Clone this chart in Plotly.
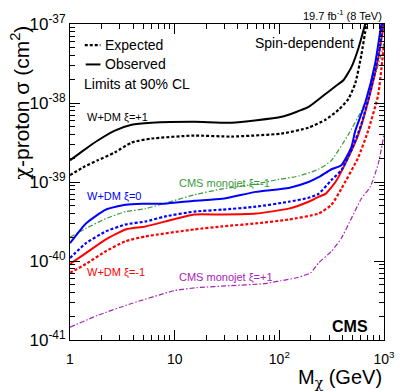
import plotly.graph_objects as go

# --- limits: dark matter mass (GeV) vs cross section (cm^2) ---

# W+DM, xi=+1
m_xi_p1_obs = [1, 1.39, 1.84, 2.68, 3.88, 6.0, 15.4, 35, 105, 190, 276, 344, 409, 487, 568, 661, 691]
s_xi_p1_obs = [1.88e-39, 2.59e-39, 3.35e-39, 4.47e-39, 5.31e-39, 5.62e-39, 5.79e-39, 5.62e-39,
               6.68e-39, 8.91e-39, 1.30e-38, 1.63e-38, 1.94e-38, 2.82e-38, 4.87e-38, 1.0e-37, 1.26e-37]
m_xi_p1_exp = [1, 1.39, 1.84, 2.68, 3.88, 6.0, 15.4, 35, 105, 190, 276, 367, 456, 532, 606, 676, 706]
s_xi_p1_exp = [1.22e-39, 1.58e-39, 1.88e-39, 2.37e-39, 3.16e-39, 3.55e-39, 3.87e-39, 3.76e-39,
               4.10e-39, 4.87e-39, 6.13e-39, 8.18e-39, 1.12e-38, 1.78e-38, 3.98e-38, 9.44e-38, 1.26e-37]

# W+DM, xi=0
m_xi_0_obs = [1, 1.42, 2.20, 3.40, 4.93, 8.0, 15.4, 28.4, 59.7, 123, 190, 237, 315, 391, 487, 532,
              661, 823, 938, 980]
s_xi_0_obs = [1.68e-40, 2.99e-40, 4.47e-40, 5.16e-40, 5.31e-40, 5.31e-40, 5.79e-40, 6.13e-40,
              7.50e-40, 8.41e-40, 1.0e-39, 1.15e-39, 1.45e-39, 1.63e-39, 2.75e-39, 4.47e-39,
              1.0e-38, 3.16e-38, 9.44e-38, 1.26e-37]
m_xi_0_exp = [1, 1.42, 2.20, 3.40, 5.27, 8.0, 15.4, 28.4, 59.7, 123, 190, 237, 315, 391, 487, 606,
              754, 918, 980]
s_xi_0_exp = [1.09e-40, 1.68e-40, 2.37e-40, 2.90e-40, 3.16e-40, 3.65e-40, 4.22e-40, 4.47e-40,
              4.87e-40, 5.62e-40, 6.31e-40, 7.08e-40, 1.06e-39, 1.41e-39, 2.51e-39, 5.31e-39,
              1.54e-38, 5.31e-38, 1.15e-37]

# W+DM, xi=-1
m_xi_m1_obs = [1, 1.42, 2.20, 3.40, 5.27, 15.4, 28.4, 59.7, 123, 190, 237, 276, 344, 456, 568, 706,
               879, 980, 1020]
s_xi_m1_obs = [9.17e-41, 1.26e-40, 1.88e-40, 2.51e-40, 2.74e-40, 3.87e-40, 3.87e-40, 3.98e-40,
               4.60e-40, 5.62e-40, 6.49e-40, 7.08e-40, 1.0e-39, 2.05e-39, 3.98e-39, 1.06e-38,
               3.65e-38, 8.66e-38, 1.15e-37]
m_xi_m1_exp = [1, 1.42, 2.20, 3.40, 5.27, 15.4, 28.4, 59.7, 123, 237, 315, 391, 568, 706, 879, 1000]
s_xi_m1_exp = [7.08e-41, 9.17e-41, 1.33e-40, 1.78e-40, 2.05e-40, 2.51e-40, 2.74e-40, 2.99e-40,
               3.35e-40, 3.98e-40, 5.16e-40, 8.18e-40, 2.05e-39, 4.47e-39, 1.26e-38, 5.62e-38]

# CMS monojet
m_monojet_m1 = [1, 1.42, 2.20, 3.40, 5.27, 15.4, 28.4, 59.7, 92.5, 153, 237, 315, 456, 606, 823, 1000]
s_monojet_m1 = [2.0e-40, 2.59e-40, 3.44e-40, 4.22e-40, 4.60e-40, 6.88e-40, 8.18e-40, 9.44e-40,
                1.06e-39, 1.19e-39, 1.45e-39, 1.88e-39, 3.98e-39, 7.94e-39, 2.24e-38, 5.62e-38]
m_monojet_p1 = [1, 1.84, 3.88, 10, 16.4, 34.5, 71.1, 103, 146, 199, 237, 315, 391, 487, 606, 738, 879, 1000]
s_monojet_p1 = [1.45e-41, 2.05e-41, 2.90e-41, 4.22e-41, 4.60e-41, 4.87e-41, 5.16e-41, 5.62e-41,
                6.13e-41, 7.08e-41, 9.44e-41, 1.33e-40, 1.94e-40, 3.44e-40, 6.13e-40, 8.66e-40,
                1.68e-39, 3.98e-39]

# axis ticks
x_tickvals = [1, 10, 100, 1000]
x_ticktext = ['1', '10', '10<sup>2</sup>', '10<sup>3</sup>']
y_tickvals = [1e-41, 1e-40, 1e-39, 1e-38, 1e-37]
y_ticktext = ['10<sup>-41</sup>', '10<sup>-40</sup>', '10<sup>-39</sup>', '10<sup>-38</sup>', '10<sup>-37</sup>']

FONT = 'Liberation Sans, Arial, Helvetica, sans-serif'
CHI = '<span style="font-family:DejaVu Serif">χ</span>'
BLUE = '#0000ff'
RED = '#ff0000'
GREEN = '#3a9a3a'
PURPLE = '#a624b8'
DOT = '3px,2px'
DASHDOT = '5px,2px,1.5px,2px'

fig = go.Figure()


def add_curve(m, s, color, dash, width):
    fig.add_trace(go.Scatter(
        x=m, y=s, mode='lines',
        line=dict(color=color, dash=dash, width=width, shape='spline', smoothing=0.5),
        showlegend=False, hoverinfo='skip'
    ))


add_curve(m_monojet_p1, s_monojet_p1, PURPLE, DASHDOT, 1.2)
add_curve(m_monojet_m1, s_monojet_m1, GREEN, DASHDOT, 1.2)
add_curve(m_xi_m1_exp, s_xi_m1_exp, RED, DOT, 2.2)
add_curve(m_xi_m1_obs, s_xi_m1_obs, RED, 'solid', 2)
add_curve(m_xi_0_exp, s_xi_0_exp, BLUE, DOT, 2.2)
add_curve(m_xi_0_obs, s_xi_0_obs, BLUE, 'solid', 2)
add_curve(m_xi_p1_exp, s_xi_p1_exp, 'black', DOT, 2.2)
add_curve(m_xi_p1_obs, s_xi_p1_obs, 'black', 'solid', 2)

minor_x = [k * 10 ** e for e in range(0, 3) for k in range(2, 10)]
minor_y = [k * 10.0 ** e for e in range(-41, -37) for k in range(2, 10)]

fig.update_layout(
    width=407, height=391,
    margin=dict(l=70, r=21, t=20, b=51),
    paper_bgcolor='white', plot_bgcolor='white',
    font=dict(family=FONT, color='black'),
    xaxis=dict(
        type='log', range=[0, 3],
        tickmode='array', tickvals=x_tickvals, ticktext=x_ticktext,
        tickfont=dict(size=14), ticklabelstandoff=6,
        ticks='inside', ticklen=10, tickwidth=1, tickcolor='black',
        minor=dict(tickvals=minor_x, ticks='inside', ticklen=5, tickcolor='black'),
        showline=True, linecolor='black', linewidth=1, mirror='allticks',
        showgrid=False, zeroline=False,
    ),
    yaxis=dict(
        type='log', range=[-41, -37],
        tickmode='array', tickvals=y_tickvals, ticktext=y_ticktext,
        tickfont=dict(size=17),
        ticks='inside', ticklen=10, tickwidth=1, tickcolor='black',
        minor=dict(tickvals=minor_y, ticks='inside', ticklen=5, tickcolor='black'),
        showline=True, linecolor='black', linewidth=1, mirror='allticks',
        showgrid=False, zeroline=False,
    ),
)

# legend drawn ROOT-style inside the frame
fig.add_shape(type='line', xref='paper', yref='paper', x0=0.047, x1=0.097, y0=0.933, y1=0.933,
              line=dict(color='black', width=2.2, dash=DOT))
fig.add_shape(type='line', xref='paper', yref='paper', x0=0.050, x1=0.097, y0=0.872, y1=0.872,
              line=dict(color='black', width=2))

annotations = [
    dict(text='Expected', x=0.104, y=0.933, xanchor='left', size=14, color='black'),
    dict(text='Observed', x=0.104, y=0.872, xanchor='left', size=14, color='black'),
    dict(text='Limits at 90% CL', x=0.038, y=0.81, xanchor='left', size=14, color='black'),
    dict(text='Spin-dependent', x=0.91, y=0.94, xanchor='right', size=14, color='black'),
    dict(text='W+DM ξ=+1', x=0.047, y=0.707, xanchor='left', size=11, color='black'),
    dict(text='CMS monojet ξ=-1', x=0.342, y=0.497, xanchor='left', size=11, color=GREEN),
    dict(text='W+DM ξ=0', x=0.047, y=0.456, xanchor='left', size=11, color=BLUE),
    dict(text='W+DM ξ=-1', x=0.047, y=0.216, xanchor='left', size=11, color=RED),
    dict(text='CMS monojet ξ=+1', x=0.342, y=0.2, xanchor='left', size=11, color=PURPLE),
    dict(text='<b>CMS</b>', x=0.956, y=0.044, xanchor='right', size=16, color='black'),
    dict(text='19.7 fb<sup>-1</sup> (8 TeV)', x=1.0, y=1.03, xanchor='right', size=11, color='black'),
]
for a in annotations:
    fig.add_annotation(text=a['text'], x=a['x'], y=a['y'], xref='paper', yref='paper',
                       xanchor=a['xanchor'], yanchor='middle', showarrow=False,
                       font=dict(size=a['size'], color=a['color'], family=FONT))

# axis titles
fig.add_annotation(text=f'M<sub>{CHI}</sub> (GeV)', x=1.0, y=-0.075, xref='paper', yref='paper',
                   xanchor='right', yanchor='top', showarrow=False,
                   font=dict(size=20, family=FONT))
fig.add_annotation(text=f'{CHI}-proton σ (cm<sup>2</sup>)', x=-0.16, y=1.0, xref='paper', yref='paper',
                   xanchor='center', yanchor='top', textangle=-90, showarrow=False,
                   font=dict(size=21, family=FONT))

# page body margin would otherwise push the 407x391 figure out of the window
fig.write_html('out.html', config={'displayModeBar': False},
               post_script="document.body.style.margin='0';")
